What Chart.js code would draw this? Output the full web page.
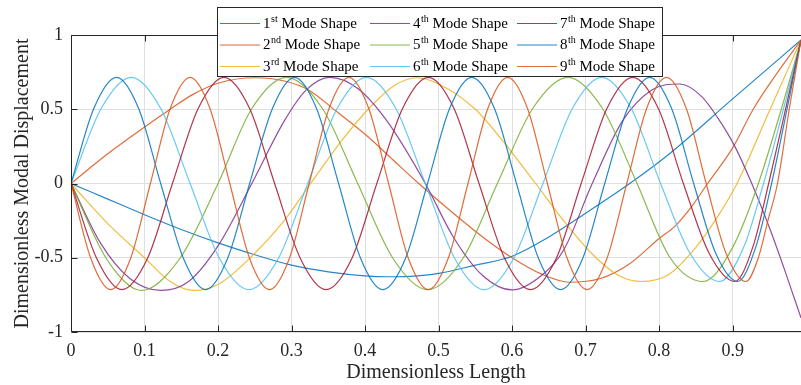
<!DOCTYPE html>
<html>
<head>
<meta charset="utf-8">
<script src="https://cdn.jsdelivr.net/npm/chart.js@4.4.1/dist/chart.umd.min.js"></script>
<style>
  html, body { margin: 0; padding: 0; background: #fff; overflow: hidden; }
  canvas { display: block; }
</style>
</head>
<body>
<canvas id="chart" width="801" height="385"></canvas>
<script>
// values
const mode1X = [0, 0.05, 0.1, 0.15, 0.2, 0.25, 0.3, 0.35, 0.4, 0.43, 0.46, 0.5, 0.55, 0.6, 0.65, 0.7, 0.76, 0.812, 0.9, 0.993];
const mode1Y = [0, -0.105, -0.21, -0.31, -0.4, -0.48, -0.55, -0.595, -0.622, -0.628, -0.625, -0.605, -0.55, -0.49, -0.36, -0.2, 0, 0.192, 0.57, 0.966];

const mode2X = [0, 0.05, 0.1, 0.135, 0.166, 0.2, 0.25, 0.29, 0.323, 0.36, 0.404, 0.44, 0.473, 0.52, 0.56, 0.6, 0.64, 0.678, 0.72, 0.76, 0.8, 0.821, 0.845, 0.866, 0.9, 0.928, 0.96, 0.993];
const mode2Y = [0, 0.2, 0.38, 0.5, 0.6, 0.675, 0.712, 0.69, 0.63, 0.49, 0.315, 0.15, 0, -0.2, -0.36, -0.5, -0.61, -0.665, -0.64, -0.54, -0.37, -0.29, -0.15, 0, 0.24, 0.5, 0.74, 0.966];

const mode3X = [0, 0.05, 0.1, 0.135, 0.167, 0.2, 0.246, 0.29, 0.326, 0.37, 0.41, 0.44, 0.47, 0.5, 0.55, 0.59, 0.632, 0.67, 0.71, 0.745, 0.776, 0.812, 0.85, 0.88, 0.906, 0.951, 0.993];
const mode3Y = [0, -0.27, -0.5, -0.66, -0.72, -0.68, -0.49, -0.25, 0, 0.3, 0.53, 0.66, 0.712, 0.67, 0.5, 0.27, 0, -0.25, -0.48, -0.62, -0.66, -0.616, -0.43, -0.22, 0, 0.5, 0.966];

const mode4X = [0, 0.04, 0.08, 0.122, 0.16, 0.2, 0.246, 0.29, 0.32, 0.352, 0.39, 0.43, 0.482, 0.52, 0.56, 0.6, 0.64, 0.67, 0.709, 0.75, 0.79, 0.828, 0.858, 0.88, 0.903, 0.926, 0.951, 0.972, 0.993];
const mode4Y = [0, -0.4, -0.64, -0.72, -0.66, -0.42, 0, 0.42, 0.63, 0.715, 0.64, 0.42, 0, -0.36, -0.62, -0.717, -0.62, -0.45, 0, 0.42, 0.63, 0.67, 0.585, 0.44, 0.25, 0, -0.31, -0.6, -0.905];

const mode5X = [0, 0.048, 0.096, 0.148, 0.2, 0.246, 0.293, 0.342, 0.39, 0.438, 0.485, 0.533, 0.58, 0.628, 0.676, 0.723, 0.77, 0.815, 0.86, 0.9, 0.935, 0.965, 0.993];
const mode5Y = [0, -0.505, -0.72, -0.505, 0, 0.505, 0.715, 0.505, 0, -0.505, -0.715, -0.505, 0, 0.505, 0.715, 0.505, 0, -0.5, -0.66, -0.43, 0, 0.48, 0.966];

const mode6X = [0, 0.041, 0.082, 0.122, 0.162, 0.202, 0.242, 0.282, 0.322, 0.362, 0.402, 0.442, 0.482, 0.522, 0.562, 0.602, 0.642, 0.682, 0.722, 0.762, 0.802, 0.842, 0.882, 0.915, 0.942, 0.968, 0.993];
const mode6Y = [0, 0.505, 0.715, 0.505, 0, -0.505, -0.715, -0.505, 0, 0.505, 0.715, 0.505, 0, -0.505, -0.715, -0.505, 0, 0.505, 0.715, 0.505, 0, -0.47, -0.66, -0.43, 0, 0.48, 0.966];

const mode7X = [0, 0.035, 0.069, 0.104, 0.138, 0.173, 0.208, 0.243, 0.277, 0.312, 0.347, 0.382, 0.416, 0.451, 0.486, 0.521, 0.555, 0.59, 0.625, 0.66, 0.694, 0.729, 0.764, 0.799, 0.833, 0.868, 0.903, 0.928, 0.949, 0.972, 0.993];
const mode7Y = [0, -0.505, -0.715, -0.505, 0, 0.505, 0.715, 0.505, 0, -0.505, -0.715, -0.505, 0, 0.505, 0.715, 0.505, 0, -0.505, -0.715, -0.505, 0, 0.505, 0.715, 0.505, 0, -0.47, -0.66, -0.42, 0, 0.5, 0.966];

const mode8X = [0, 0.031, 0.062, 0.092, 0.122, 0.153, 0.183, 0.213, 0.243, 0.274, 0.304, 0.334, 0.364, 0.394, 0.424, 0.455, 0.485, 0.515, 0.545, 0.576, 0.606, 0.636, 0.666, 0.696, 0.726, 0.757, 0.787, 0.817, 0.847, 0.877, 0.907, 0.932, 0.953, 0.974, 0.993];
const mode8Y = [0, 0.505, 0.715, 0.505, 0, -0.505, -0.715, -0.505, 0, 0.505, 0.715, 0.505, 0, -0.505, -0.715, -0.505, 0, 0.505, 0.715, 0.505, 0, -0.505, -0.715, -0.505, 0, 0.505, 0.715, 0.505, 0, -0.47, -0.66, -0.42, 0, 0.5, 0.966];

const mode9X = [0, 0.027, 0.054, 0.081, 0.108, 0.135, 0.162, 0.189, 0.216, 0.243, 0.27, 0.297, 0.324, 0.351, 0.378, 0.405, 0.432, 0.459, 0.486, 0.513, 0.54, 0.567, 0.594, 0.621, 0.648, 0.675, 0.702, 0.729, 0.756, 0.783, 0.81, 0.837, 0.864, 0.891, 0.918, 0.935, 0.948, 0.961, 0.977, 0.993];
const mode9Y = [0, -0.505, -0.715, -0.505, 0, 0.505, 0.715, 0.505, 0, -0.505, -0.715, -0.505, 0, 0.505, 0.715, 0.505, 0, -0.505, -0.715, -0.505, 0, 0.505, 0.715, 0.505, 0, -0.505, -0.715, -0.505, 0, 0.505, 0.715, 0.505, 0, -0.47, -0.66, -0.5, -0.25, 0, 0.5, 0.966];

const xTickValues = [0, 0.1, 0.2, 0.3, 0.4, 0.5, 0.6, 0.7, 0.8, 0.9];
const yTickValues = [-1, -0.5, 0, 0.5, 1];

const legendNums = ['1', '2', '3', '4', '5', '6', '7', '8', '9'];
const legendSups = ['st', 'nd', 'rd', 'th', 'th', 'th', 'th', 'th', 'th'];
// matlab default line colours, a bit softened like the reference
const modeColors = [
    'rgba(0,114,189,0.85)', 'rgba(217,83,25,0.85)', 'rgba(237,177,32,0.85)',
    'rgba(126,47,142,0.85)', 'rgba(119,172,48,0.85)', 'rgba(77,190,238,0.85)',
    'rgba(162,20,47,0.85)', 'rgba(0,114,189,0.85)', 'rgba(217,83,25,0.85)'
];

const allX = [mode1X, mode2X, mode3X, mode4X, mode5X, mode6X, mode7X, mode8X, mode9X];
const allY = [mode1Y, mode2Y, mode3Y, mode4Y, mode5Y, mode6Y, mode7Y, mode8Y, mode9Y];

const SERIF = '"Liberation Serif", "Times New Roman", serif';
const INK = '#262626';

const datasets = allX.map((xs, i) => ({
    label: legendNums[i] + legendSups[i] + ' Mode Shape',
    data: xs.map((x, j) => ({ x: x, y: allY[i][j] })),
    borderColor: modeColors[i],
    borderWidth: 1.2,
    pointRadius: 0,
    fill: false,
    cubicInterpolationMode: 'monotone',
    order: 8 - i // later modes on top, like matlab
}));

// matlab style box with inward ticks
const axesBox = {
    id: 'axesBox',
    afterDatasetsDraw(chart) {
        const { ctx, chartArea: a, scales: { x, y } } = chart;
        const L = Math.round(a.left) + 0.5;
        const T = Math.round(a.top) + 0.5;
        const B = Math.round(a.bottom) - 0.5;
        ctx.save();
        ctx.strokeStyle = INK;
        ctx.lineWidth = 1;
        ctx.beginPath();
        ctx.moveTo(a.right + 1, T);
        ctx.lineTo(L, T);
        ctx.lineTo(L, B);
        ctx.lineTo(a.right + 1, B);
        x.ticks.forEach(t => {
            const px = Math.round(x.getPixelForValue(t.value)) + 0.5;
            ctx.moveTo(px, B); ctx.lineTo(px, B - 6);
            ctx.moveTo(px, T); ctx.lineTo(px, T + 6);
        });
        y.ticks.forEach(t => {
            const py = Math.round(y.getPixelForValue(t.value)) + 0.5;
            ctx.moveTo(L, py); ctx.lineTo(L + 6, py);
        });
        ctx.stroke();
        ctx.restore();
    }
};

// legend box, 3 columns, with superscript ordinals
const boxLegend = {
    id: 'boxLegend',
    afterDraw(chart) {
        const ctx = chart.ctx;
        const box = { x: 217, y: 7, w: 445, h: 69 };
        const colX = [220, 370, 517];
        const rowY = [23, 44.5, 66];
        ctx.save();
        ctx.fillStyle = '#fff';
        ctx.fillRect(box.x, box.y, box.w, box.h);
        ctx.strokeStyle = INK;
        ctx.lineWidth = 1;
        ctx.strokeRect(box.x + 0.5, box.y + 0.5, box.w, box.h);
        chart.data.datasets.forEach((ds, i) => {
            const cx = colX[Math.floor(i / 3)];
            const cy = rowY[i % 3];
            ctx.strokeStyle = ds.borderColor;
            ctx.lineWidth = 1.2;
            ctx.beginPath();
            ctx.moveTo(cx, cy + 0.5);
            ctx.lineTo(cx + 40, cy + 0.5);
            ctx.stroke();
            ctx.fillStyle = '#000';
            ctx.textBaseline = 'middle';
            let tx = cx + 43;
            ctx.font = '15px ' + SERIF;
            ctx.fillText(legendNums[i], tx, cy + 1);
            tx += ctx.measureText(legendNums[i]).width + 0.5;
            ctx.font = '10px ' + SERIF;
            ctx.fillText(legendSups[i], tx, cy - 4);
            tx += ctx.measureText(legendSups[i]).width;
            ctx.font = '15px ' + SERIF;
            ctx.fillText(' Mode Shape', tx, cy + 1);
        });
        ctx.restore();
    }
};

new Chart(document.getElementById('chart'), {
    type: 'line',
    data: { datasets: datasets },
    options: {
        responsive: false,
        animation: false,
        devicePixelRatio: 1,
        layout: { padding: { top: 35, left: 0, right: 0, bottom: 0 } },
        plugins: {
            legend: { display: false },
            tooltip: { enabled: false }
        },
        scales: {
            x: {
                type: 'linear',
                min: 0,
                max: 0.993,
                afterBuildTicks: s => { s.ticks = xTickValues.map(v => ({ value: v })); },
                afterFit: s => { s.height = 53; },
                ticks: {
                    padding: 8,
                    maxRotation: 0,
                    autoSkip: false,
                    color: INK,
                    font: { family: SERIF, size: 18 },
                    callback: v => String(v)
                },
                grid: { color: '#dfdfdf', drawTicks: false },
                border: { display: false },
                title: {
                    display: true,
                    text: 'Dimensionless Length',
                    color: INK,
                    font: { family: SERIF, size: 20 },
                    padding: { top: 0, bottom: 0 }
                }
            },
            y: {
                min: -1,
                max: 1,
                afterBuildTicks: s => { s.ticks = yTickValues.map(v => ({ value: v })); },
                afterFit: s => { s.width = 71; },
                ticks: {
                    padding: 8,
                    color: INK,
                    font: { family: SERIF, size: 18 },
                    callback: v => String(v)
                },
                grid: { color: '#dfdfdf', drawTicks: false },
                border: { display: false },
                title: {
                    display: true,
                    text: 'Dimensionless Modal Displacement',
                    color: INK,
                    font: { family: SERIF, size: 20 },
                    padding: { top: 11, bottom: 0 }
                }
            }
        }
    },
    plugins: [axesBox, boxLegend]
});
</script>
</body>
</html>
